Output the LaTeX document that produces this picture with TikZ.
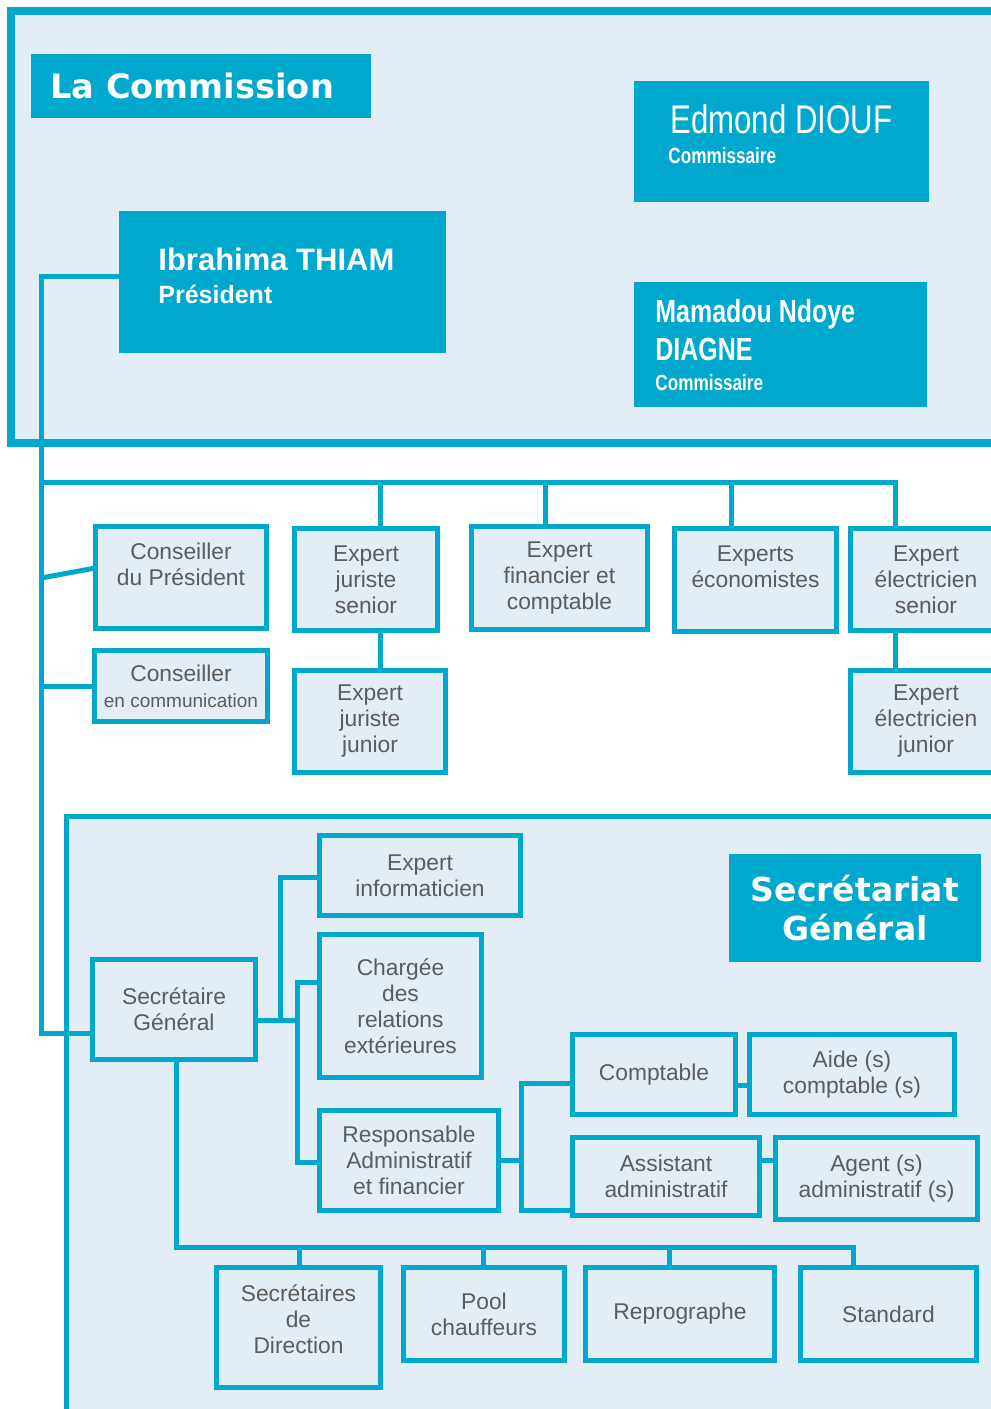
\documentclass[tikz,border=0pt]{standalone}
\usepackage{fontspec}
\setmainfont{Liberation Sans}
\newfontfamily\titlefont{DejaVu Sans}
\newfontfamily\condfont[FakeStretch=0.78]{Liberation Sans}
\definecolor{cy}{HTML}{00A8CE}
\definecolor{pan}{HTML}{E3EDF6}
\definecolor{txtg}{HTML}{5C5C5C}
\begin{document}
\begin{tikzpicture}[x=0.5pt,y=-0.5pt,
  wh/.style 2 args={minimum width=#1*0.5pt, minimum height=#2*0.5pt},
  box/.style={draw=cy, line width=2.5pt, fill=pan, anchor=north west, inner sep=0pt, outer sep=0pt, align=center, text=txtg, font=\fontsize{11.4}{13}\selectfont},
  tbox/.style={fill=cy, anchor=north west, inner sep=0pt, outer sep=0pt},
  wtxt/.style={text=white, inner sep=0pt, anchor=base west, align=left},
  conn/.style={draw=cy, line width=2.5pt},
]
\useasboundingbox (0,0) rectangle (991,1409);
\clip (0,0) rectangle (991,1409);
\fill[white] (0,0) rectangle (991,1409);

% panels
\draw[cy, line width=4pt, fill=pan] (11,11) rectangle (1010,443);
\draw[cy, line width=2.5pt, fill=pan] (66,816) rectangle (1010,1430);

% commission titles
\node[tbox, wh={340}{64}] (lacom) at (31,54) {};
\node[wtxt] (lacom-t) at (50,98) {\titlefont\bfseries\fontsize{16.8}{20}\selectfont La Commission};

\node[tbox, wh={327}{142}] (pres) at (119,211) {};
\node[wtxt] (pres-n) at (158,270) {\bfseries\fontsize{15.5}{18}\selectfont Ibrahima THIAM};
\node[wtxt] (pres-r) at (158,303) {\bfseries\fontsize{12.5}{14}\selectfont Président};

\node[tbox, wh={295}{121}] (edm) at (634,81) {};
\node[wtxt] (edm-n) at (670,133) {\condfont\fontsize{20}{22}\selectfont Edmond DIOUF};
\node[wtxt] (edm-r) at (668,163) {\condfont\bfseries\fontsize{11}{13}\selectfont Commissaire};

\node[tbox, wh={293}{125}] (mam) at (634,282) {};
\node[wtxt] (mam-n1) at (655,322) {\condfont\bfseries\fontsize{16}{19}\selectfont Mamadou Ndoye};
\node[wtxt] (mam-n2) at (655,360) {\condfont\bfseries\fontsize{16}{19}\selectfont DIAGNE};
\node[wtxt] (mam-r) at (655,390) {\condfont\bfseries\fontsize{11}{13}\selectfont Commissaire};

% middle row boxes
\node[box, wh={171}{102}] (cdp) at (95.5,526.5) {Conseiller\\du Président\\\mbox{}};
\node[box, wh={143}{102}] (ejs) at (294.5,528.5) {Expert\\juriste\\senior};
\node[box, wh={176}{103}] (efc) at (471.5,526.5) {Expert\\financier et\\comptable};
\node[box, wh={162}{103}] (eeco) at (674.5,528.5) {Experts\\économistes\\\mbox{}};
\node[box, wh={151}{102}] (eels) at (850.5,528.5) {Expert\\électricien\\senior};
\node[box, wh={173}{71}] (cec) at (94.5,650.5) {Conseiller\\{\fontsize{9.5}{12}\selectfont en communication}};
\node[box, wh={151}{102}] (ejj) at (294.5,670.5) {Expert\\juriste\\junior};
\node[box, wh={151}{102}] (eelj) at (850.5,670.5) {Expert\\électricien\\junior};

% secretariat
\node[tbox, wh={252}{108}, text=white, align=center, font=\titlefont\bfseries\fontsize{16.5}{19.5}\selectfont] (sgt) at (729,854) {Secrétariat\\Général};

\node[box, wh={163}{100}] (sg) at (92.5,959.5) {Secrétaire\\Général};
\node[box, wh={201}{80}] (einf) at (319.5,835.5) {Expert\\informaticien};
\node[box, wh={162}{143}] (chg) at (319.5,934.5) {Chargée\\des\\relations\\extérieures};
\node[box, wh={179}{100}] (raf) at (319.5,1110.5) {Responsable\\Administratif\\et financier};
\node[box, wh={163}{80}] (compt) at (572.5,1034.5) {Comptable};
\node[box, wh={205}{80}] (aide) at (749.5,1034.5) {Aide (s)\\comptable (s)};
\node[box, wh={187}{78}] (asst) at (572.5,1137.5) {Assistant\\administratif};
\node[box, wh={202}{82}] (agent) at (775.5,1137.5) {Agent (s)\\administratif (s)};
\node[box, wh={164}{120}] (sdd) at (216.5,1267.5) {Secrétaires\\de\\Direction\\[-5pt]\mbox{}};
\node[box, wh={161}{93}] (pool) at (403.5,1267.5) {Pool\\chauffeurs};
\node[box, wh={189}{93}] (repro) at (585.5,1267.5) {Reprographe};
\node[box, wh={176}{93}] (std) at (800.5,1267.5) {Standard};

% main connector
\coordinate (m0) at (41,276);
\coordinate (m1) at (41,1033);
\draw[conn] (pres.west |- m0) -- (m0) -- (m1) -- (sg.west |- m1);

% top bus
\coordinate (b0) at (41,482);
\coordinate (d1) at (380,482);
\coordinate (d2) at (545,482);
\coordinate (d3) at (731,482);
\coordinate (d4) at (895,482);
\draw[conn] (b0) -- (d4) -- (d4 |- eels.north);
\draw[conn] (d1) -- (d1 |- ejs.north);
\draw[conn] (d2) -- (d2 |- efc.north);
\draw[conn] (d3) -- (d3 |- eeco.north);
\draw[conn] (d1 |- ejs.south) -- (d1 |- ejj.north);
\draw[conn] (d4 |- eels.south) -- (d4 |- eelj.north);
\coordinate (c1) at (41,578);
\coordinate (c1e) at (95.5,568);
\draw[conn] (c1) -- (cdp.west |- c1e);
\draw[conn] (cec.west -| m0) -- (cec.west);

% secretariat connectors
\coordinate (j1) at (280,1020);
\coordinate (j2) at (297,1020);
\coordinate (j1t) at (280,877);
\coordinate (j2t) at (297,982);
\coordinate (j2b) at (297,1162);
\draw[conn] (sg.east |- j2) -- (j2);
\draw[conn] (j1) -- (j1t) -- (j1t -| einf.west);
\draw[conn] (j2t -| chg.west) -- (j2t) -- (j2b) -- (j2b -| raf.west);

\coordinate (k) at (521,1160);
\coordinate (kt) at (521,1083);
\coordinate (kb) at (521,1210);
\draw[conn] (raf.east |- k) -- (k);
\draw[conn] (kt -| compt.west) -- (kt) -- (kb) -- (kb -| asst.west);
\coordinate (ca) at (742,1085);
\draw[conn] (ca -| compt.east) -- (ca -| aide.west);
\coordinate (aa) at (768,1160);
\draw[conn] (aa -| asst.east) -- (aa -| agent.west);

\coordinate (s0) at (176,1247);
\coordinate (s1) at (299,1247);
\coordinate (s2) at (483,1247);
\coordinate (s3) at (669,1247);
\coordinate (s4) at (853,1247);
\draw[conn] (sg.south -| s0) -- (s0) -- (s4) -- (s4 |- std.north);
\draw[conn] (s1) -- (s1 |- sdd.north);
\draw[conn] (s2) -- (s2 |- pool.north);
\draw[conn] (s3) -- (s3 |- repro.north);
\end{tikzpicture}
\end{document}
